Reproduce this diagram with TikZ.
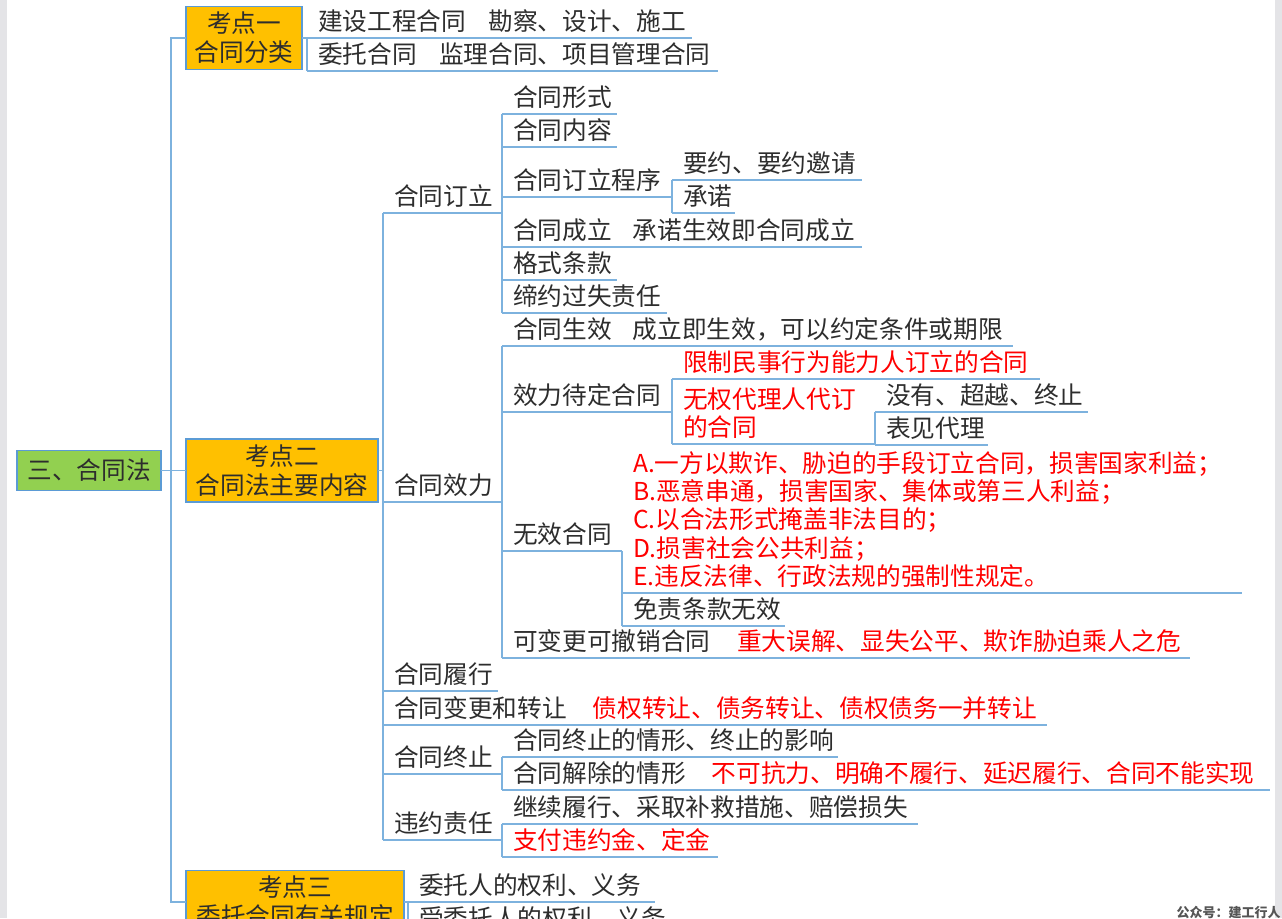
\documentclass[tikz,border=0pt]{standalone}
\usepackage{fontspec}
\setmainfont{Noto Sans CJK SC}
\definecolor{lnc}{RGB}{125,178,222}
\definecolor{bxc}{RGB}{91,155,213}
\definecolor{orgc}{RGB}{255,192,0}
\definecolor{grnc}{RGB}{146,208,80}
\definecolor{txtc}{RGB}{45,45,45}
\definecolor{rdc}{RGB}{255,0,0}
\definecolor{edgec}{RGB}{228,228,231}
\definecolor{wmc}{RGB}{85,85,85}
\newcommand{\redt}[1]{\textcolor{rdc}{#1}}
\begin{document}
\begin{tikzpicture}[x=0.75pt,y=-0.75pt,
  conn/.style={draw=lnc,line width=1.2pt},
  box/.style={draw=bxc,line width=0.8pt,fill=orgc,align=center,inner sep=0pt,outer sep=0pt,
    minimum height=47.25pt,text=txtc,font=\fontsize{18.5}{21.75}\selectfont},
  topic/.style={anchor=south west,inner xsep=8.25pt,inner ysep=2.7pt,outer sep=0pt,
    text depth=3pt,align=left,text width=#1,text=txtc,font=\fontsize{18.5}{21.2}\selectfont}
]
\useasboundingbox (0,0) rectangle (1282,918);
\fill[white] (0,0) rectangle (1282,918);
\fill[edgec] (0,0) rectangle (7,918);
\fill[edgec] (1275,0) rectangle (1282,918);
\clip (0,0) rectangle (1282,918);

% main boxes
\node[box,fill=grnc,minimum width=108pt,minimum height=30pt] (root) at (89,470.5) {三、合同法};
\node[box,minimum width=87pt] (k1) at (244,38) {考点一\\合同分类};
\node[box,minimum width=144pt] (k2) at (282,470.5) {考点二\\合同法主要内容};
\node[box,minimum width=163.5pt] (k3) at (295,902) {考点三\\委托合同有关规定};

% topic 1
\node[topic=272.25pt] (k1a) at (307,38) {建设工程合同\kern17pt 勘察、设计、施工};
\node[topic=291.75pt] (k1b) at (307,71) {委托合同\kern17pt 监理合同、项目管理合同};

% topic 2, level 2
\node[topic=72.75pt] (s1) at (383,213) {合同订立};
\node[topic=72.75pt] (s2) at (383,502) {合同效力};
\node[topic=69.75pt] (s3) at (383,691) {合同履行};
\node[topic=481.5pt] (s4) at (383,725) {合同变更和转让\kern19.5pt\redt{债权转让、债务转让、债权债务一并转让}};
\node[topic=72.75pt] (s5) at (383,774) {合同终止};
\node[topic=72.75pt] (s6) at (383,840) {违约责任};

% under 合同订立
\node[topic=69.75pt] (a1) at (502,114) {合同形式};
\node[topic=69.75pt] (a2) at (502,147) {合同内容};
\node[topic=111pt] (a3) at (502,197) {合同订立程序};
\node[topic=126pt] (a31) at (672,180) {要约、要约邀请};
\node[topic=30.75pt] (a32) at (672,213) {承诺};
\node[topic=253.5pt] (a4) at (502,247) {合同成立\kern16pt 承诺生效即合同成立};
\node[topic=69.75pt] (a5) at (502,280) {格式条款};
\node[topic=107.25pt] (a6) at (502,313) {缔约过失责任};

% under 合同效力
\node[topic=366.75pt] (b1) at (502,346) {合同生效\kern16pt 成立即生效，可以约定条件或期限};
\node[topic=111pt] (b2) at (502,412) {效力待定合同};
\node[topic=259.5pt] (b21) at (672,379) {\redt{限制民事行为能力人订立的合同}};
\node[topic=135.75pt,text depth=24.2pt] (b22) at (672,444) {\redt{无权代理人代订\\的合同}};
\node[topic=143.25pt] (b221) at (875,412) {没有、超越、终止};
\node[topic=68.25pt] (b222) at (875,445) {表见代理};
\node[topic=73.5pt] (b3) at (502,551) {无效合同};
\node[topic=448.5pt,text depth=87.8pt] (b31) at (622,593) {\redt{A.一方以欺诈、胁迫的手段订立合同，损害国家利益；\\B.恶意串通，损害国家、集体或第三人利益；\\C.以合法形式掩盖非法目的；\\D.损害社会公共利益；\\E.违反法律、行政法规的强制性规定。}};
\node[topic=105.75pt] (b32) at (622,626) {免责条款无效};
\node[topic=499.5pt] (b4) at (502,658) {可变更可撤销合同\kern20pt\redt{重大误解、显失公平、欺诈胁迫乘人之危}};

% under 合同终止
\node[topic=235.5pt] (c1) at (502,757) {合同终止的情形、终止的影响};
\node[topic=559.5pt] (c2) at (502,790) {合同解除的情形\kern19.5pt\redt{不可抗力、明确不履行、延迟履行、合同不能实现}};

% under 违约责任
\node[topic=295.5pt] (d1) at (502,824) {继续履行、采取补救措施、赔偿损失};
\node[topic=145.5pt] (d2) at (502,857) {\redt{支付违约金、定金}};

% topic 3
\node[topic=168.75pt] (e1) at (408,902) {委托人的权利、义务};
\node[topic=195pt] (e2) at (408,935) {受委托人的权利、义务};

% underlines
\foreach \n in {k1a,k1b,s1,s2,s3,s4,s5,s6,a1,a2,a3,a31,a32,a4,a5,a6,b1,b2,b21,b22,b221,b222,b3,b31,b32,b4,c1,c2,d1,d2,e1,e2}
  \draw[conn] (\n.south west) -- (\n.south east);

% connectors
\coordinate (trunk) at (171,470.5);
\draw[conn] (root.east) -- (k2.west);
\draw[conn] (k1.west) -| (trunk) |- (k3.west);
\draw[conn] (k1.east) -- (k1a.south west) -- (k1b.south west);
\draw[conn] (k2.east) -- (k2.east -| s1.south west);
\draw[conn] (s1.south west) -- (s6.south west);
\draw[conn] (a1.south west) -- (a6.south west);
\draw[conn] (a31.south west) -- (a32.south west);
\draw[conn] (b1.south west) -- (b4.south west);
\draw[conn] (b21.south west) -- (b22.south west);
\draw[conn] (b221.south west) -- (b222.south west);
\draw[conn] (b3.south east) -- (b32.south west);
\draw[conn] (c1.south west) -- (c2.south west);
\draw[conn] (d1.south west) -- (d2.south west);
\draw[conn] (k3.east) -- (e1.south west) -- (e2.south west);

% footer mark
\node[anchor=east,inner sep=0pt,text=wmc,font=\fontsize{9.75}{10}\selectfont\bfseries] (wm) at (1281,912) {公众号：建工行人};
\end{tikzpicture}
\end{document}
